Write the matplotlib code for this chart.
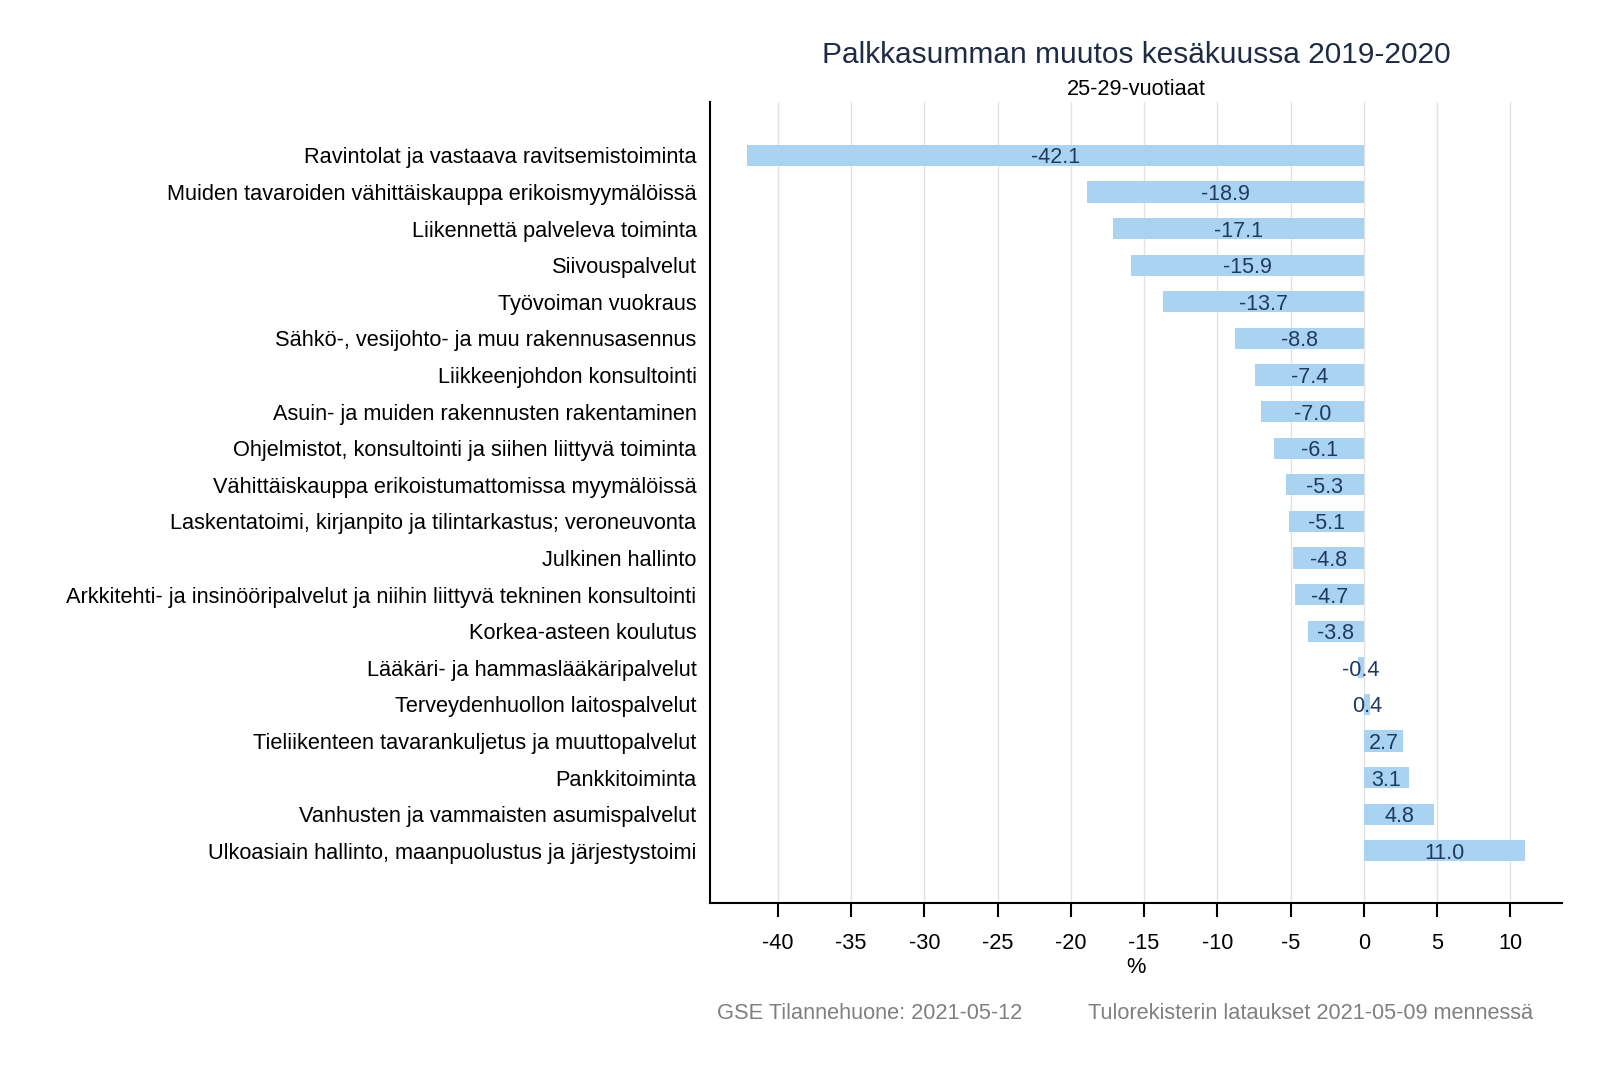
import matplotlib.pyplot as plt

plt.rcParams["font.family"] = ["Liberation Sans", "DejaVu Sans"]

# data: change of wage sum, June 2019-2020, age 25-29
industries = [
    "Ravintolat ja vastaava ravitsemistoiminta",
    "Muiden tavaroiden vähittäiskauppa erikoismyymälöissä",
    "Liikennettä palveleva toiminta",
    "Siivouspalvelut",
    "Työvoiman vuokraus",
    "Sähkö-, vesijohto- ja muu rakennusasennus",
    "Liikkeenjohdon konsultointi",
    "Asuin- ja muiden rakennusten rakentaminen",
    "Ohjelmistot, konsultointi ja siihen liittyvä toiminta",
    "Vähittäiskauppa erikoistumattomissa myymälöissä",
    "Laskentatoimi, kirjanpito ja tilintarkastus; veroneuvonta",
    "Julkinen hallinto",
    "Arkkitehti- ja insinööripalvelut ja niihin liittyvä tekninen konsultointi",
    "Korkea-asteen koulutus",
    "Lääkäri- ja hammaslääkäripalvelut",
    "Terveydenhuollon laitospalvelut",
    "Tieliikenteen tavarankuljetus ja muuttopalvelut",
    "Pankkitoiminta",
    "Vanhusten ja vammaisten asumispalvelut",
    "Ulkoasiain hallinto, maanpuolustus ja järjestystoimi",
]
change = [-42.1, -18.9, -17.1, -15.9, -13.7, -8.8, -7.4, -7.0, -6.1, -5.3,
          -5.1, -4.8, -4.7, -3.8, -0.4, 0.4, 2.7, 3.1, 4.8, 11.0]
xticks = [-40, -35, -30, -25, -20, -15, -10, -5, 0, 5, 10]

fig = plt.figure(figsize=(16, 10.67), dpi=100)
ax = fig.add_axes([0.444, 0.154, 0.532, 0.750])

pos = list(range(len(industries)))
ax.barh(pos, change, height=0.58, color="#a9d3f0", zorder=2)
for p, v in zip(pos, change):
    ax.text(v / 2, p, f"{v:.1f}", ha="center", va="center_baseline",
            fontsize=15.5, color="#1f3a5f", zorder=3)

ax.set_yticks(pos)
ax.set_yticklabels(industries, fontsize=15.7)
ax.tick_params(axis="y", length=0, pad=10)
ax.set_ylim(20.42, -1.45)

ax.set_xticks(xticks)
ax.set_xticklabels([str(t) for t in xticks], fontsize=15.7)
ax.tick_params(axis="x", length=10, width=1.5, pad=12)
ax.set_xlim(-44.6, 13.5)
ax.set_xlabel("%", fontsize=15.7, labelpad=2)
ax.grid(axis="x", color="#e3e3e3", linewidth=1, zorder=0)

for s in ["top", "right"]:
    ax.spines[s].set_visible(False)
ax.spines["left"].set_linewidth(1.5)
ax.spines["bottom"].set_linewidth(1.5)

fig.text(0.71, 0.948, "Palkkasumman muutos kesäkuussa 2019-2020",
         ha="center", va="center", fontsize=21.5, color="#1f2a44")
fig.text(0.71, 0.916, "25-29-vuotiaat", ha="center", va="center", fontsize=15.7)

fig.text(0.448, 0.050, "GSE Tilannehuone: 2021-05-12", ha="left", va="center",
         fontsize=15.7, color="#808080")
fig.text(0.958, 0.050, "Tulorekisterin lataukset 2021-05-09 mennessä",
         ha="right", va="center", fontsize=15.7, color="#808080")

fig.savefig("out.png", dpi=100)
